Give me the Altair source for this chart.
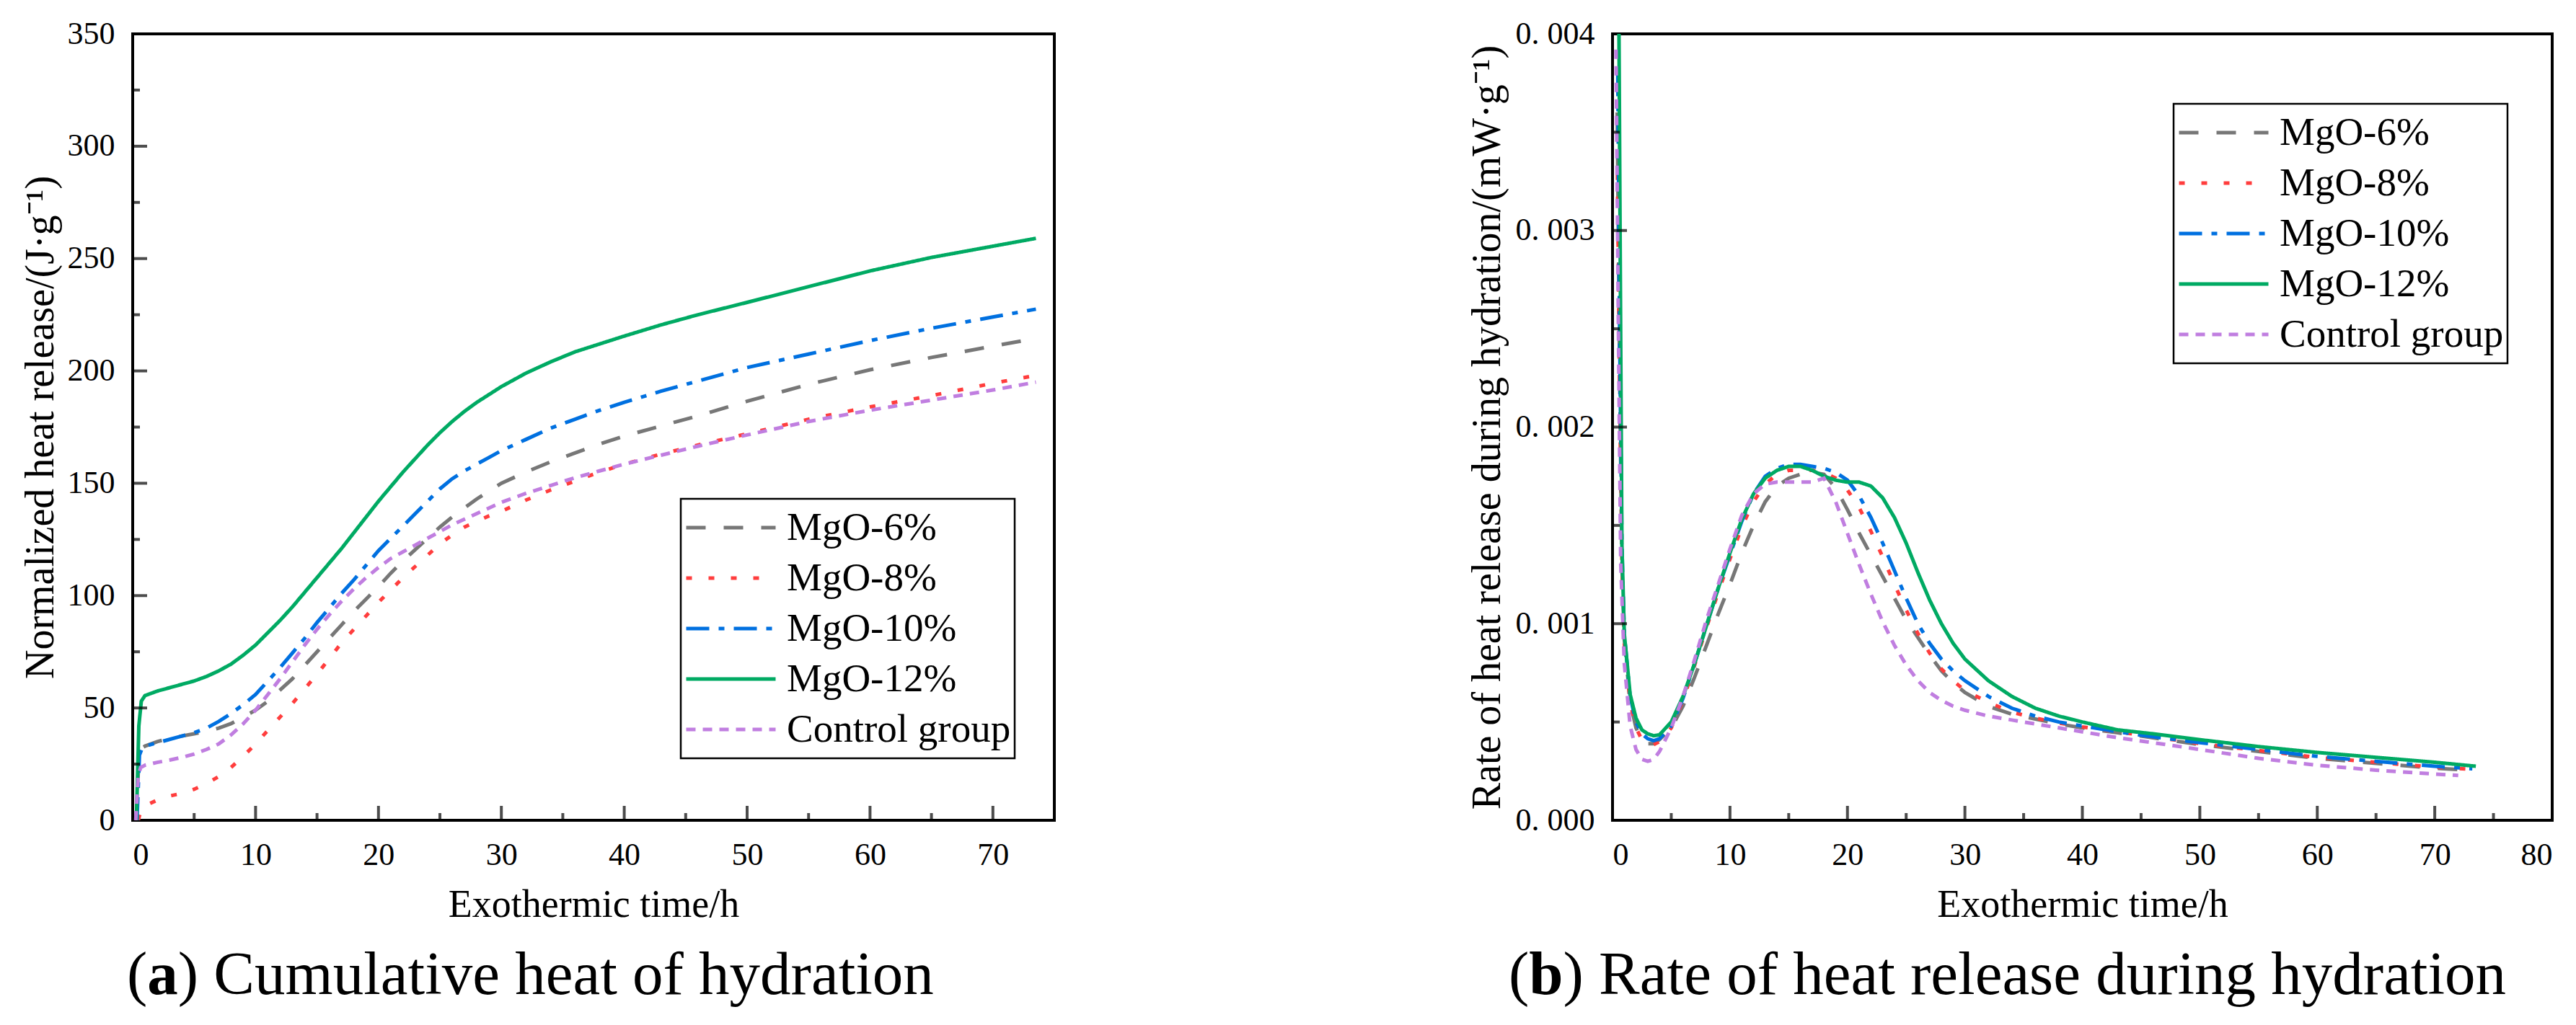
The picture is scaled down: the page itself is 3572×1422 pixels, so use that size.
import altair as alt
import pandas as pd

FONT = "Liberation Serif"

SERIES = ["MgO-6%", "MgO-8%", "MgO-10%", "MgO-12%", "Control group"]
COLORS = ["#777777", "#ff3d3d", "#0070e0", "#00aa63", "#c07ee0"]
DASHES = [[27, 25], [8, 23], [32, 13, 8, 13], [1, 0], [13, 10]]

# ---------------- (a) cumulative heat, J/g ----------------
GRID_A = [1, 2, 3, 4, 5, 6, 7, 8, 9, 10, 11, 12, 13, 14, 15, 16, 17, 18, 19, 20,
          21, 22, 23, 24, 25, 26, 27, 28, 29, 30, 32, 34, 36, 38, 40, 43, 46, 50,
          55, 60, 65, 70, 73.5]
PREFIX_A = {
    "MgO-6%": [(0.3, 0), (0.5, 28), (0.7, 32)],
    "MgO-8%": [(0.45, 0), (0.7, 5)],
    "MgO-10%": [(0.35, 0), (0.55, 29), (0.8, 32.5)],
    "MgO-12%": [(0.3, 0), (0.5, 42), (0.7, 53)],
    "Control group": [(0.25, 0), (0.45, 20), (0.65, 23.5)],
}
VALUES_A = {
    "MgO-6%": [33, 35, 36.5, 37.5, 38.5, 39.5, 41, 43, 46, 49, 53, 58, 63, 69, 75, 81,
               87, 93, 98.5, 104, 110, 115.5, 120.5, 125.5, 130.5, 135, 139, 143, 146.5,
               150, 155, 159.5, 163.5, 167.5, 171, 175.5, 180, 186.5, 194, 200.5, 206,
               211, 214.5],
    "MgO-8%": [6.5, 9, 10.8, 12, 13.8, 16.3, 19.5, 23.5, 28.5, 34, 40, 46, 52, 58.5, 65,
               72, 79, 85, 91, 97, 102.5, 108, 113, 118, 123, 127, 130.5, 133, 135.5,
               137.5, 142.5, 147, 151, 155, 158.5, 163, 167, 172, 178.5, 184, 189, 194.5,
               198],
    "MgO-10%": [33, 34.5, 36, 37.5, 39, 41, 44, 47.5, 51.5, 56, 62, 68, 74.5, 81, 88,
                94.5, 101, 107, 113.5, 120, 125.5, 131, 136.5, 142, 147.5, 152, 155.5,
                158.5, 161.5, 164.5, 169.5, 174.5, 178.5, 182.5, 186, 191, 195.5, 201.5,
                207.5, 213.5, 219, 224, 227.5],
    "MgO-12%": [55.5, 57.5, 59, 60.5, 62, 64, 66.5, 69.5, 73.5, 78, 83.5, 89, 95, 101.5,
                108, 114.5, 121, 128, 135, 142, 148.5, 155, 161, 167, 172.5, 177.5, 182,
                186, 189.5, 193, 199, 204, 208.5, 212, 215.5, 220.5, 225, 230.5, 237.5,
                244.5, 250.5, 255.5, 259],
    "Control group": [24.5, 25.8, 26.8, 28, 29.5, 31.5, 34, 38, 43, 49, 56, 63, 70.5, 78,
                      85, 91.5, 97.5, 103, 108, 112.5, 116.5, 119.5, 122.5, 125.5, 128.5,
                      131.5, 134, 136.5, 139, 141.5, 145.5, 149, 152.5, 155.5, 158.5,
                      162.5, 166.5, 171.5, 177.5, 182.5, 187, 191.5, 195],
}

# ---------------- (b) heat release rate, in 10^-3 mW/g ----------------
GRID_B = [1, 1.5, 2, 2.5, 3, 3.5, 4, 5, 6, 7, 8, 9, 10, 11, 12, 13, 14, 15, 16, 17,
          18, 19, 20, 21, 22, 23, 24, 25, 26, 27, 28, 29, 30, 32, 34, 36, 38, 40, 43,
          46, 50, 55, 60, 65, 70]
PREFIX_B = {
    "MgO-6%": [(0.4, 3.6), (0.6, 2.3), (0.8, 1.3)],
    "MgO-8%": [(0.4, 3.4), (0.6, 2.2), (0.8, 1.3)],
    "MgO-10%": [(0.45, 3.8), (0.6, 2.5), (0.8, 1.4)],
    "MgO-12%": [(0.55, 4.0), (0.7, 2.4), (0.8, 1.4)],
    "Control group": [(0.3, 3.92), (0.5, 2.5), (0.7, 1.3)],
}
VALUES_B = {
    "MgO-6%": [0.92, 0.6, 0.47, 0.41, 0.39, 0.39, 0.41, 0.47, 0.58, 0.73, 0.89, 1.05,
               1.2, 1.36, 1.5, 1.62, 1.7, 1.74, 1.76, 1.77, 1.76, 1.69, 1.58, 1.46, 1.35,
               1.24, 1.13, 1.02, 0.93, 0.84, 0.76, 0.7, 0.65, 0.58, 0.54, 0.515, 0.49,
               0.47, 0.445, 0.42, 0.385, 0.35, 0.315, 0.29, 0.265],
    "MgO-8%": [0.9, 0.6, 0.47, 0.41, 0.39, 0.385, 0.4, 0.47, 0.61, 0.79, 0.98, 1.16,
               1.33, 1.49, 1.62, 1.71, 1.76, 1.78, 1.78, 1.78, 1.77, 1.74, 1.68, 1.59,
               1.47, 1.34, 1.2, 1.07, 0.95, 0.85, 0.77, 0.71, 0.66, 0.6, 0.55, 0.52,
               0.495, 0.475, 0.45, 0.425, 0.39, 0.355, 0.32, 0.295, 0.27],
    "MgO-10%": [0.95, 0.63, 0.5, 0.44, 0.415, 0.405, 0.415, 0.48, 0.62, 0.8, 0.99, 1.18,
                1.35, 1.52, 1.66, 1.75, 1.79, 1.81, 1.81, 1.8, 1.79, 1.77, 1.73, 1.65,
                1.54, 1.41, 1.27, 1.13, 1.0, 0.9, 0.82, 0.76, 0.71, 0.63, 0.57, 0.53,
                0.5, 0.48, 0.45, 0.425, 0.395, 0.36, 0.325, 0.3, 0.275],
    "MgO-12%": [0.95, 0.64, 0.52, 0.46, 0.44, 0.43, 0.435, 0.5, 0.63, 0.8, 0.99, 1.18,
                1.36, 1.53, 1.66, 1.74, 1.78, 1.8, 1.8, 1.78, 1.75, 1.73, 1.72, 1.72,
                1.7, 1.64, 1.54, 1.41, 1.26, 1.12, 1.0, 0.9, 0.82, 0.71, 0.63, 0.57,
                0.53, 0.5, 0.46, 0.44, 0.41, 0.375, 0.345, 0.32, 0.295],
    "Control group": [0.8, 0.48, 0.36, 0.31, 0.3, 0.31, 0.35, 0.47, 0.63, 0.82, 1.02,
                      1.2, 1.38, 1.55, 1.66, 1.71, 1.72, 1.72, 1.72, 1.72, 1.74, 1.62,
                      1.46, 1.3, 1.15, 1.01, 0.89, 0.79, 0.71, 0.65, 0.61, 0.58, 0.56,
                      0.53, 0.51, 0.49, 0.47, 0.45, 0.42, 0.395, 0.36, 0.315, 0.28,
                      0.255, 0.235],
}
END_B = {
    "MgO-6%": (73.0, 0.255),
    "MgO-8%": (73.0, 0.26),
    "MgO-10%": (73.2, 0.262),
    "MgO-12%": (73.5, 0.275),
    "Control group": (72.0, 0.228),
}
UNIT_B = 0.001

# ticks
XA_LABELS = [0, 10, 20, 30, 40, 50, 60, 70]
XA_MAJOR = [10, 20, 30, 40, 50, 60, 70]
XA_MINOR = [5, 15, 25, 35, 45, 55, 65]
YA_LABELS = [0, 50, 100, 150, 200, 250, 300, 350]
YA_MAJOR = [50, 100, 150, 200, 250, 300]
YA_MINOR = [25, 75, 125, 175, 225, 275, 325]
XB_LABELS = [0, 10, 20, 30, 40, 50, 60, 70, 80]
XB_MAJOR = [10, 20, 30, 40, 50, 60, 70]
XB_MINOR = [5, 15, 25, 35, 45, 55, 65, 75]
YB_LABELS = [0.0, 0.001, 0.002, 0.003, 0.004]
YB_MAJOR = [0.001, 0.002, 0.003]
YB_MINOR = [0.0005, 0.0015, 0.0025, 0.0035]

CAPTION_A = ["(", "a", ") Cumulative heat of hydration"]
CAPTION_B = ["(", "b", ") Rate of heat release during hydration"]


def long_frame(grid, prefix, values, end=None, unit=1.0):
    rows = []
    for s in SERIES:
        pts = list(prefix[s]) + list(zip(grid, values[s]))
        if end is not None:
            pts.append(end[s])
        for i, (t, v) in enumerate(pts):
            rows.append({"s": s, "t": t, "v": v * unit, "i": i})
    return pd.DataFrame(rows)


df_a = long_frame(GRID_A, PREFIX_A, VALUES_A)
df_b = long_frame(GRID_B, PREFIX_B, VALUES_B, END_B, UNIT_B)

H = 1091
CAP_FS = 85


def panel(df, width, xdom, xlabels, xmajor, xminor, ydom, ylabels, ymajor, yminor,
          ytitle, ylabel_expr, ytitle_pad, legx, legy, caption, cap_x, bold_w):
    xs = alt.Scale(domain=xdom, nice=False, zero=False)
    ys = alt.Scale(domain=ydom, nice=False, zero=False)
    xaxis = alt.Axis(values=xlabels, title="Exothermic time/h", labelFont=FONT,
                     labelFontSize=44, labelColor="black", titleFont=FONT,
                     titleFontSize=54, titleFontWeight="normal", titleColor="black",
                     domain=False, ticks=False, tickSize=0, grid=False,
                     labelPadding=26, titlePadding=20, labelOverlap=False,
                     format="d")
    yaxis_kw = dict(values=ylabels, title=ytitle, labelFont=FONT, labelFontSize=44,
                    labelColor="black", titleFont=FONT, titleFontSize=56,
                    titleFontWeight="normal", titleColor="black", domain=False,
                    ticks=False, tickSize=0, grid=False, labelPadding=25,
                    titlePadding=ytitle_pad, labelOverlap=False)
    if ylabel_expr:
        yaxis_kw["labelExpr"] = ylabel_expr
    else:
        yaxis_kw["format"] = "d"
    yaxis = alt.Axis(**yaxis_kw)
    leg = alt.Legend(orient="none", legendX=legx, legendY=legy, symbolType="stroke",
                     symbolSize=124 * 124, symbolStrokeWidth=5, clipHeight=70,
                     rowPadding=0, labelFont=FONT, labelFontSize=55, labelOffset=13,
                     labelLimit=0, labelColor="black", padding=5,
                     strokeColor="black", fillColor="white", symbolOffset=0)
    lines = alt.Chart(df).mark_line(strokeWidth=5, clip=True).encode(
        x=alt.X("t:Q", scale=xs, axis=xaxis),
        y=alt.Y("v:Q", scale=ys, axis=yaxis),
        color=alt.Color("s:N", scale=alt.Scale(domain=SERIES, range=COLORS),
                        legend=leg, title=None),
        strokeDash=alt.StrokeDash("s:N", scale=alt.Scale(domain=SERIES, range=DASHES),
                                  legend=leg, title=None),
        order=alt.Order("i:Q"),
    )
    layers = [lines]
    for vals, size in ((ymajor, 20), (yminor, 10)):
        layers.append(
            alt.Chart(pd.DataFrame({"v": vals})).mark_tick(
                orient="horizontal", size=size, thickness=4, color="black",
                xOffset=size / 2
            ).encode(y=alt.Y("v:Q", scale=ys, axis=yaxis), x=alt.value(0))
        )
    for vals, size in ((xmajor, 20), (xminor, 10)):
        layers.append(
            alt.Chart(pd.DataFrame({"t": vals})).mark_tick(
                orient="vertical", size=size, thickness=4, color="black",
                yOffset=-size / 2
            ).encode(x=alt.X("t:Q", scale=xs, axis=xaxis), y=alt.value(H))
        )
    # caption: "(" + bold letter + ") text"
    cy = 1332
    xs_cap = [cap_x, cap_x + 0.333 * CAP_FS, cap_x + 0.333 * CAP_FS + bold_w * CAP_FS]
    weights = ["normal", "bold", "normal"]
    for txt, px, wgt in zip(caption, xs_cap, weights):
        layers.append(
            alt.Chart(pd.DataFrame({"c": [txt]})).mark_text(
                align="left", baseline="alphabetic", font=FONT, fontSize=CAP_FS,
                fontWeight=wgt, color="black"
            ).encode(text="c:N", x=alt.value(px), y=alt.value(cy))
        )
    return alt.layer(*layers).properties(width=width, height=H)


left = panel(df_a, 1278, [0, 75], XA_LABELS, XA_MAJOR, XA_MINOR, [0, 350], YA_LABELS,
             YA_MAJOR, YA_MINOR, "Normalized heat release/(J·g⁻¹)", None, 8,
             760, 645, CAPTION_A, -8, 0.5)
right = panel(df_b, 1303, [0, 80], XB_LABELS, XB_MAJOR, XB_MINOR, [0, 0.004],
              YB_LABELS, YB_MAJOR, YB_MINOR,
              "Rate of heat release during hydration/(mW·g⁻¹)",
              "replace(format(datum.value, '.3f'), '.', '. ')", 10,
              778, 97, CAPTION_B, -144, 0.556)

chart = alt.hconcat(left, right, spacing=567).resolve_scale(
    color="independent", strokeDash="independent"
).resolve_legend(
    color="independent", strokeDash="independent"
).properties(
    padding={"left": 18, "top": 15, "right": 5, "bottom": 5},
    background="white",
).configure_view(stroke="black", strokeWidth=4).configure_legend(
    strokeWidth=2.5
)

chart.save("out.html", embed_options={"renderer": "svg", "actions": False})
